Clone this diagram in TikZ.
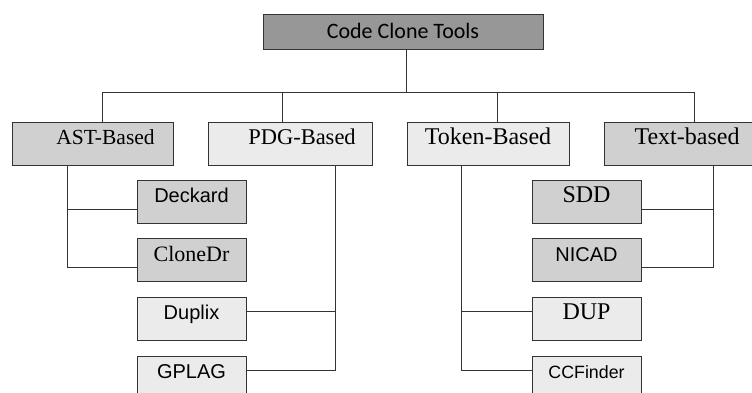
\documentclass[tikz,border=0pt]{standalone}
\usepackage{fontspec}
\setmainfont{Liberation Serif}
\newfontfamily\arialfont{Liberation Sans}
\newfontfamily\calibrifont{Carlito}
\definecolor{darkfill}{HTML}{979797}
\definecolor{midfill}{HTML}{D0D0D0}
\definecolor{lightfill}{HTML}{EBEBEB}
\definecolor{edgecol}{HTML}{333333}
\begin{document}
\begin{tikzpicture}[x=1pt,y=-1pt,
  box/.style={draw=edgecol, line width=1pt, inner sep=0pt, minimum height=43pt, text height=10pt, text depth=8pt},
  tool/.style={box, minimum width=109pt},
  link/.style={draw=edgecol, line width=0.9pt},
  serif/.style={font=\fontsize{#1}{#1}\selectfont},
  sans/.style={font=\arialfont\fontsize{#1}{#1}\selectfont}]
\useasboundingbox (0,0) rectangle (752,392);
\clip (0,0) rectangle (752,392);
% root
\node[box, fill=darkfill, minimum width=280pt, minimum height=35pt, text height=14pt, text depth=0pt, font=\calibrifont\fontsize{22}{22}\selectfont] (root) at (403,31.5) {Code Clone Tools};
% categories
\node[box, fill=midfill, minimum width=161pt, serif=21.5] (ast) at (92.5,143.5) {\hspace*{26pt}AST-Based};
\node[box, fill=lightfill, minimum width=164pt, serif=22.5] (pdg) at (290,143.5) {\hspace*{24pt}PDG-Based};
\node[box, fill=lightfill, minimum width=162pt, serif=24] (token) at (488,143.5) {Token-Based};
\node[box, fill=midfill, minimum width=166pt, serif=24] (txt) at (687,143.5) {Text-based};
% tools
\node[tool, fill=midfill, sans=20] (deckard) at (191.5,201.5) {Deckard};
\node[tool, fill=midfill, serif=22] (clonedr) at (191.5,260) {CloneDr};
\node[tool, fill=lightfill, sans=20] (duplix) at (191.5,318.5) {Duplix};
\node[tool, fill=lightfill, sans=20] (gplag) at (191.5,377.5) {GPLAG};
\node[tool, fill=midfill, serif=24] (sdd) at (586.5,201.5) {SDD};
\node[tool, fill=midfill, sans=20] (nicad) at (586.5,260) {NICAD};
\node[tool, fill=lightfill, serif=24] (dup) at (586.5,318.5) {DUP};
\node[tool, fill=lightfill, sans=17.8] (ccfinder) at (586.5,377.5) {CCFinder};
% bus
\coordinate (bus) at (406,92);
\coordinate (busl) at (102,92);
\coordinate (busr) at (694,92);
\draw[link] (root.south -| bus) -- (bus);
\draw[link] (busl) -- (busr);
\foreach \n/\x in {ast/102, pdg/282, token/497, txt/694}
  \draw[link] (\x,92) -- (\x,92 |- \n.north);
% branches
\coordinate (astj1) at (67,209);
\coordinate (astj2) at (67,267);
\draw[link] (ast.south -| astj1) -- (astj2) -- (astj2 -| clonedr.west);
\draw[link] (astj1) -- (astj1 -| deckard.west);
\coordinate (pdgj1) at (335,311);
\coordinate (pdgj2) at (335,370);
\draw[link] (pdg.south -| pdgj1) -- (pdgj2) -- (pdgj2 -| gplag.east);
\draw[link] (pdgj1) -- (pdgj1 -| duplix.east);
\coordinate (tokj1) at (461,311);
\coordinate (tokj2) at (461,370);
\draw[link] (token.south -| tokj1) -- (tokj2) -- (tokj2 -| ccfinder.west);
\draw[link] (tokj1) -- (tokj1 -| dup.west);
\coordinate (txtj1) at (713,209);
\coordinate (txtj2) at (713,267);
\draw[link] (txt.south -| txtj1) -- (txtj2) -- (txtj2 -| nicad.east);
\draw[link] (txtj1) -- (txtj1 -| sdd.east);
\end{tikzpicture}
\end{document}
